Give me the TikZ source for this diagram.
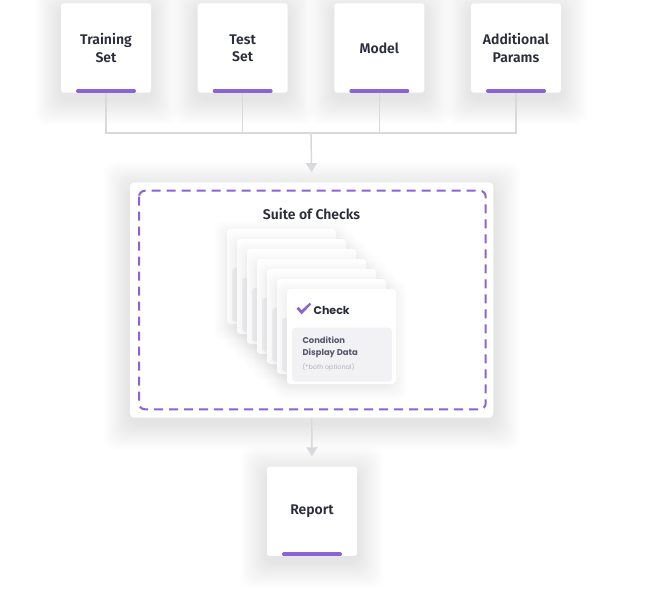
\documentclass[tikz,border=0pt]{standalone}
\usepackage{fontspec}
\setmainfont{Fira Sans}[BoldFont={Fira Sans SemiBold}]
\newfontfamily\popfont{Poppins}
\usetikzlibrary{arrows.meta,calc}
\definecolor{purp}{HTML}{8B63D3}
\definecolor{linegray}{HTML}{D8D8DD}
\definecolor{txt}{HTML}{2B2D3B}
\definecolor{innergray}{HTML}{F2F2F5}
\definecolor{subtxt}{HTML}{55566A}
\definecolor{faint}{HTML}{B0B0BC}
\pgfdeclarelayer{bglayer}
\pgfdeclarelayer{shadowlayer}
\pgfsetlayers{bglayer,shadowlayer,main}
% soft shadow behind a named node: node, steps, opacity per step
\newcommand\softsh[3]{%
  \foreach \k in {1,...,#2}{
    \fill[black, opacity=#3, rounded corners=8pt] ($(#1.north west)+(-\k,-\k+6)$) rectangle ($(#1.south east)+(\k,\k+6)$);
  }}
\begin{document}
\begin{tikzpicture}[x=0.75pt,y=-0.75pt,
  box/.style={fill=white, rounded corners=2pt, minimum width=67.5pt, minimum height=67pt, inner sep=0pt, align=center, font=\fontsize{10.5}{13}\selectfont\bfseries, text=txt},
  bar/.style={purp, line width=2.55pt, line cap=round},
  conn/.style={linegray, line width=1.1pt},
  arr/.style={conn, -{Triangle[width=8.25pt,length=6.75pt]}, shorten >=7.5pt},
  suitebox/.style={fill=white, rounded corners=3pt, minimum width=272.5pt, minimum height=176.5pt, inner sep=0pt},
  dashbox/.style={purp, line width=1.5pt, dash pattern=on 6.75pt off 4.5pt, rounded corners=4.5pt},
  cardbox/.style={fill=white, rounded corners=2.5pt},
  innerbox/.style={fill=innergray, rounded corners=2.5pt},
]
\begin{pgfonlayer}{bglayer}
\fill[white] (0,0) rectangle (646,590);
\end{pgfonlayer}
\useasboundingbox (0,0) rectangle (646,590);

\coordinate (j) at (311,133);
\node[box] (t1) at (106,48) {Training\\Set};
\node[box] (t2) at (242.7,48) {Test\\Set};
\node[box] (t3) at (379.3,48) {Model};
\node[box] (t4) at (516,48) {Additional\\Params};
\node[suitebox] (suite) at (311.7,300) {};
\node[box] (rep) at (312,511.2) {Report};

\begin{pgfonlayer}{shadowlayer}
\foreach \n in {t1,t2,t3,t4,rep}{\softsh{\n}{26}{0.0028}}
\softsh{suite}{26}{0.0028}
\end{pgfonlayer}

\begin{pgfonlayer}{shadowlayer}
\draw[conn] (t1.south) |- (j) -| (t4.south);
\draw[conn] (t2.south) -- (t2.south |- j);
\draw[conn] (t3.south) -- (t3.south |- j);
\draw[arr] (j) -- (suite.north);
\draw[arr] (suite.south) -- (rep.north);
\end{pgfonlayer}

% purple bars
\foreach \n in {t1,t2,t3,t4,rep}{
  \draw[bar] ($(\n.south west)+(17,-2)$) -- ($(\n.south east)+(-17,-2)$);
}

% dashed frame
\draw[dashbox] (139,190.7) rectangle (485.7,409.3);
\node[font=\fontsize{10.5}{13}\selectfont\bfseries, text=txt] (suitetitle) at (311.5,213.5) {Suite of Checks};

% stacked cards
\foreach \i in {0,...,6}{
  \foreach \k in {1,...,12}{
    \fill[black, opacity=0.0055, rounded corners=6pt] (227+10*\i-\k-1,229+10*\i-\k+4) rectangle (336+10*\i+\k-1,324+10*\i+\k+4);
  }
  \path[cardbox] (227+10*\i,229+10*\i) rectangle ++(109,95);
  \path[innerbox] (232+10*\i,267.7+10*\i) rectangle ++(100,54);
}
% check mark
\fill[purp] (296.5,308.8) -- (298.6,306.9) -- (301.6,310.2) -- (309.6,302.8) -- (311.2,304.4) -- (301.6,314.3) -- cycle;
\node[anchor=west, inner sep=0pt, font=\popfont\fontsize{8.3}{10}\selectfont\bfseries, text=txt] (chk) at (313.3,310.3) {Check};
\node[anchor=north west, inner sep=0pt, align=left, font=\popfont\fontsize{6.3}{9}\selectfont\bfseries, text=subtxt] (cond) at (302.3,336.5) {Condition\\Display Data};
\node[anchor=west, inner sep=0pt, font=\popfont\fontsize{4.8}{6}\selectfont, text=faint] (opt) at (302.3,367.7) {(*both optional)};
\end{tikzpicture}
\end{document}
